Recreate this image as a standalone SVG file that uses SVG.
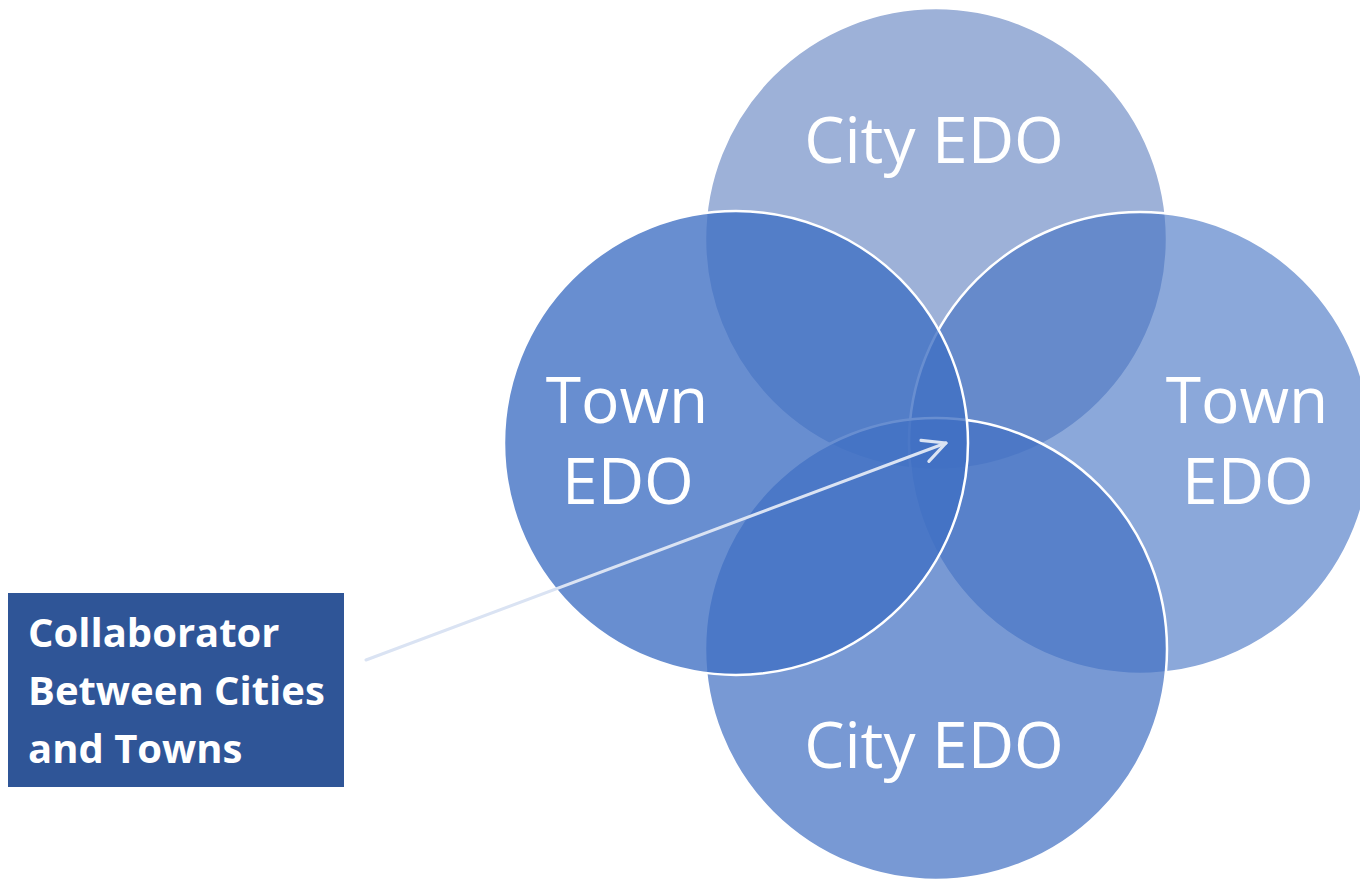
<svg xmlns="http://www.w3.org/2000/svg" width="1360" height="881" viewBox="0 0 1360 881">
  <defs>
    <style>
      .ring { stroke: #ffffff; stroke-width: 2.5; }
      .label { font-family: "Open Sans", "Liberation Sans", sans-serif; font-size: 64px; fill: #ffffff; text-anchor: middle; }
      .note { font-family: "Open Sans", "Liberation Sans", sans-serif; font-size: 40px; font-weight: bold; fill: #ffffff; }
      .pointer { stroke: #dae3f3; stroke-width: 3; fill: none; stroke-linecap: round; }
    </style>
    <marker id="openArrow" viewBox="0 0 12 12" refX="11" refY="6" markerWidth="9" markerHeight="9" markerUnits="strokeWidth" orient="auto">
      <path d="M1,1 L11,6 L1,11" fill="none" stroke="#dae3f3" stroke-width="1.4" stroke-linecap="round" stroke-linejoin="round"/>
    </marker>
  </defs>

  <rect width="1360" height="881" fill="#ffffff"/>

  <!-- Venn circles, back to front -->
  <g id="city-top">
    <circle class="ring" cx="936" cy="239" r="231" fill="#4d71b8" fill-opacity="0.55"/>
    <text class="label" x="934" y="163">City EDO</text>
  </g>
  <g id="town-right">
    <circle class="ring" cx="1140" cy="443" r="231" fill="#4472c4" fill-opacity="0.62"/>
    <text class="label" x="1247" y="423">Town</text>
    <text class="label" x="1248" y="504">EDO</text>
  </g>
  <g id="city-bottom">
    <circle class="ring" cx="936" cy="649" r="231" fill="#4472c4" fill-opacity="0.72"/>
    <text class="label" x="934" y="768">City EDO</text>
  </g>
  <g id="town-left">
    <circle class="ring" cx="736" cy="443" r="232" fill="#4070c4" fill-opacity="0.79"/>
    <text class="label" x="627" y="423">Town</text>
    <text class="label" x="628" y="504">EDO</text>
  </g>

  <!-- Callout box -->
  <g id="collaborator">
    <rect x="8" y="593" width="336" height="194" fill="#2f5597"/>
    <text class="note" x="28" y="647">Collaborator</text>
    <text class="note" x="28" y="705">Between Cities</text>
    <text class="note" x="28" y="763">and Towns</text>
  </g>

  <!-- Connectors -->
  <g id="connectors">
    <line class="pointer" x1="366" y1="660" x2="946" y2="443" marker-end="url(#openArrow)"/>
  </g>
</svg>
